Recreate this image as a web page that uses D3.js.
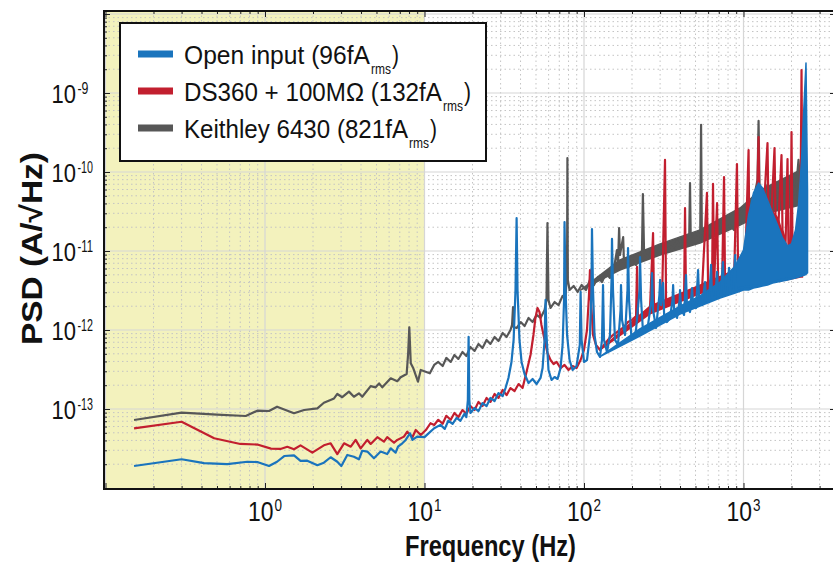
<!DOCTYPE html>
<html><head><meta charset="utf-8">
<script src="https://cdn.jsdelivr.net/npm/d3@7"></script>
<style>body{margin:0;background:#fff;} svg{display:block;}</style>
</head><body>
<svg id="chart" width="833" height="567"></svg>
<script>
// ---------- DATA ----------
const freqTicks = [1, 10, 100, 1000];
const freqTickExps = ["0", "1", "2", "3"];
const psdTicks = [1e-13, 1e-12, 1e-11, 1e-10, 1e-9];
const psdTickExps = ["-13", "-12", "-11", "-10", "-9"];
const shadedBand = [0.098, 10];   // Hz, highlighted low-frequency region
const seriesNames = ["Open input (96fA", "DS360 + 100M\u03A9 (132fA", "Keithley 6430 (821fA"];
const seriesColors = ["#1a74bd", "#c21f2f", "#575757"];

// [frequency Hz, PSD A/sqrt(Hz)]
const openInput = [
[0.151,1.90e-14],[0.30,2.31e-14],[0.415,2.06e-14],[0.58,2.01e-14],[0.775,2.15e-14],[0.895,2.13e-14],[1.06,1.90e-14],[1.19,2.15e-14],[1.32,2.54e-14],[1.52,2.59e-14],[1.67,2.20e-14],[1.84,2.22e-14],[2.13,1.94e-14],[2.34,2.09e-14],[2.58,2.45e-14],[2.84,2.15e-14],[3.01,1.90e-14],[3.28,2.62e-14],[3.61,2.49e-14],[3.88,2.31e-14],[4.07,2.96e-14],[4.38,2.89e-14],[4.82,2.38e-14],[5.31,2.89e-14],[5.84,2.69e-14],[6.14,3.18e-14],[6.59,2.80e-14],[6.82,3.33e-14],[7.26,3.68e-14],[7.62,4.06e-14],[8.11,4.92e-14],[8.4,4.06e-14],[9.0,4.47e-14],[10,4.4e-14],[10.6,4.92e-14],[11.5,5.7e-14],
[12.6,6.3e-14],[13.4,5.6e-14],[14.1,7.1e-14],[15.0,6.5e-14],[15.9,7.7e-14],[16.8,7.1e-14],[17.8,8.7e-14],[18.3,7.9e-14],[18.7,1.3e-13],[18.9,8.2e-13],[19.1,1.3e-13],[19.4,8.9e-14],[20.6,1.03e-13],[21.8,9.4e-14],[23.1,1.19e-13],[24.5,1.09e-13],[25.9,1.38e-13],[27.5,1.26e-13],[29.1,1.59e-13],[30.9,1.46e-13],[32.2,1.84e-13],[33.6,2.47e-13],[35.1,3.94e-13],[36.2,7.5e-13],[37.2,3.2e-12],[37.8,2.6e-11],[38.3,3.2e-12],[39.4,7.5e-13],[40.6,3.94e-13],[42.4,2.77e-13],[44.9,2.13e-13],[47.6,2.4e-13],[50.4,2.07e-13],[53.4,2.47e-13],[55.0,3.3e-13],[56.6,7.5e-13],[57.4,2.4e-12],[58.2,8.65e-13],[59.9,3.12e-13],[62.6,2.33e-13],[65.4,2.54e-13],[68.3,2.4e-13],[71.3,3.3e-13],[73.4,6.47e-13],[75.0,2.4e-12],[75.5,2.33e-11],[76.6,3.2e-12],[78.3,8.65e-13],[81.2,4.17e-13],[84.8,3.12e-13],[89.8,3.5e-13],[94.1,6.47e-13],[95.2,3.03e-12],[96.6,7.5e-13],[100,3.94e-13],[104.4,4.17e-13],[109,8.65e-13],[111.4,3.2e-12],[112.2,1.9e-11],[113.9,3.2e-12],[116.4,8.65e-13],[120.6,5.27e-13],[126,4.56e-13],[129.7,7.5e-13],[131.6,3.71e-12],[133.5,7.5e-13],[139.4,5.27e-13],[145.5,8.65e-13],[148.8,4.3e-12],[149.8,1.42e-11],[152,3.2e-12],[156.4,7.5e-13],[163.4,6.47e-13],[169.5,1.79e-12],[170.6,3.71e-12],[173.1,1.34e-12],[180.8,8.65e-13],[187.4,3.2e-12],[188.8,1.09e-11],[191.6,2.4e-12],[197.9,8.65e-13],[205.9,7.93e-13],[211.9,1.0e-12],[223,3.2e-12],[224.5,8.4e-12],[228,2.4e-12],[234,1.0e-12],[244.8,9.44e-13],[252,1.16e-12],[265,2.4e-12],[267,5.27e-12],[271,1.79e-12],[283,1.06e-12],[297,2.77e-12],[300,4.3e-12],[304,2.07e-12],[313,3.94e-12],[318,1.55e-12],[331,1.26e-12],[346,1.42e-12],[359,2.4e-12],[362,3.71e-12],[367,1.79e-12],[383,1.42e-12],[398,2.4e-12],[400,3.2e-12],[406,1.9e-12],[424,1.55e-12],[436,4.97e-12],[442,2.07e-12],[462,1.69e-12],[476,3.4e-12],[483,2.07e-12],[504,1.9e-12],[519,5.75e-12],[527,2.4e-12],[550,2.07e-12],[574,4.05e-12],[582,2.4e-12],[608,2.26e-12],[626,6.66e-12],[635,2.54e-12],[664,2.54e-12],[683,5.43e-12],[693,2.7e-12],[722,2.77e-12],[743,7.26e-12],[755,2.86e-12],[789,2.94e-12],[812,6.1e-12],[824,3.03e-12],[861,3.12e-12],[887,8.9e-12],[898,3.21e-12],[952,3.4e-12],[1000,3.5e-12],[1280,3.71e-12],[1710,4.3e-12],[2280,4.83e-12],[2480,5.12e-12]
];
const ds360 = [
[0.151,5.7e-14],[0.30,6.9e-14],[0.48,4.26e-14],[0.70,3.61e-14],[0.895,3.55e-14],[1.09,3.15e-14],[1.25,3.12e-14],[1.38,3.33e-14],[1.52,3.09e-14],[1.67,3.47e-14],[1.98,2.80e-14],[2.34,3.47e-14],[2.58,3.68e-14],[2.84,2.69e-14],[3.13,3.68e-14],[3.45,3.33e-14],[3.70,4.06e-14],[3.98,3.18e-14],[4.38,4.06e-14],[4.60,3.61e-14],[5.06,4.4e-14],[5.57,3.86e-14],[5.84,4.4e-14],[6.44,3.74e-14],[6.75,4.06e-14],[7.43,4.47e-14],[7.8,5.16e-14],[8.4,4.4e-14],[8.81,5.42e-14],[9.47,4.69e-14],[10.2,5.42e-14],[10.9,6.6e-14],[11.5,6.27e-14],
[12.2,7.3e-14],[13.0,6.5e-14],[13.7,8.2e-14],[14.6,7.3e-14],[15.4,8.9e-14],[16.3,7.9e-14],[17.3,9.7e-14],[18.3,8.7e-14],[19.4,1.09e-13],[20.6,9.7e-14],[21.8,1.23e-13],[23.1,1.09e-13],[24.5,1.38e-13],[25.9,1.23e-13],[27.5,1.55e-13],[29.1,1.38e-13],[30.9,1.74e-13],[32.7,1.5e-13],[34.6,1.84e-13],[36.7,1.69e-13],[38.9,2.07e-13],[41.2,1.84e-13],[43.6,2.94e-13],[46.2,4.83e-13],[48.2,8.65e-13],[49.6,1.42e-12],[51.1,1.9e-12],[52.6,1.69e-12],[54.1,1.16e-12],[56.6,7.5e-13],[59.0,5.12e-13],[61.7,4.17e-13],[64.5,3.71e-13],[67.3,3.94e-13],[71.3,3.3e-13],[75.5,3.61e-13],[80.0,3.12e-13],[84.8,3.5e-13],[89.8,3.3e-13],[95.2,4.17e-13],[100,5.59e-13],[104.4,1.0e-12],[107.5,2.77e-12],[109,5.75e-12],[110.6,2.4e-12],[113.9,8.65e-13],[118.9,6.47e-13],[126,5.59e-13],[133.5,6.47e-13],[141.4,7.5e-13],[149.8,8.4e-13],[158.7,9.17e-13],[168,1.0e-12],[178,1.09e-12],[188.8,1.26e-12],[200,1.34e-12],[212,1.5e-12],[215,6.28e-12],[218,1.42e-12],[231,1.59e-12],[245,1.69e-12],[259,1.79e-12],[271,1.69e-11],[275,1.79e-12],[291,1.95e-12],[308,2.07e-12],[322,1.42e-10],[327,2.07e-12],[346,2.2e-12],[367,2.4e-12],[400,2.4e-12],[424,2.54e-12],[430,3.5e-11],[436,2.54e-12],[462,2.86e-12],[490,3.03e-12],[519,3.21e-12],[550,3.4e-12],[590,5.43e-11],[600,3.4e-12],[635,3.71e-12],[644,7.06e-11],[654,3.71e-12],[683,4.05e-11],[693,3.83e-12],[734,3.94e-12],[755,8.65e-11],[766,4.05e-12],[824,4.3e-12],[873,4.56e-12],[910,1.26e-10],[925,4.83e-12],[980,5.12e-12],[1029,8.9e-12],[1076,1.9e-10],[1090,8.9e-12],[1155,1.38e-11],[1207,1.84e-11],[1243,2.77e-10],[1260,2.13e-11],[1335,2.86e-11],[1414,2.33e-10],[1434,3.12e-11],[1498,3.12e-11],[1565,2.01e-10],[1587,2.86e-11],[1658,2.33e-11],[1731,1.64e-10],[1756,1.84e-11],[1834,1.19e-11],[1888,1.46e-10],[1915,1.03e-11],[1970,8.16e-12],[2000,3.21e-10],[2030,8.9e-12],[2119,1.38e-11],[2213,2.47e-11],[2279,4.43e-11],[2311,1.95e-9],[2345,1.84e-11]
];
const keithley = [
[0.151,7.26e-14],[0.30,8.98e-14],[0.5,8.5e-14],[0.757,8.15e-14],[0.895,9.52e-14],[1.06,9.43e-14],[1.19,1.07e-13],[1.52,8.83e-14],[1.76,9.71e-14],[2.13,1.02e-13],[2.34,1.20e-13],[2.71,1.36e-13],[2.84,1.55e-13],[3.05,1.41e-13],[3.36,1.66e-13],[3.61,1.43e-13],[3.88,1.58e-13],[4.07,1.43e-13],[4.60,1.95e-13],[4.94,1.88e-13],[5.19,2.11e-13],[5.44,1.88e-13],[6.14,2.45e-13],[6.75,2.25e-13],[7.09,2.52e-13],[7.73,2.77e-13],[7.9,5.1e-13],[8.03,1.08e-12],[8.2,3.8e-13],[8.51,3.27e-13],[9.10,2.22e-13],[9.47,3.12e-13],[10.8,2.83e-13],[11.5,3.61e-13],
[12.2,3.94e-13],[13.0,3.5e-13],[13.7,4.43e-13],[14.6,3.94e-13],[15.4,4.83e-13],[16.3,4.3e-13],[17.3,5.27e-13],[18.3,4.69e-13],[19.4,6.1e-13],[20.6,5.43e-13],[21.8,6.66e-13],[23.1,5.92e-13],[24.5,7.48e-13],[25.9,6.66e-13],[27.5,8.16e-13],[29.1,7.26e-13],[30.9,9.17e-13],[32.7,8.16e-13],[34.6,1.0e-12],[35.4,1.16e-12],[35.9,1.95e-12],[36.2,1.09e-12],[37.8,1.06e-12],[40.1,1.26e-12],[42.4,1.12e-12],[44.9,1.42e-12],[47.6,1.26e-12],[50.4,1.55e-12],[53.4,1.42e-12],[56.6,1.79e-12],[58.2,2.4e-12],[59.0,2.26e-11],[59.9,2.4e-12],[61.7,1.9e-12],[65.4,2.26e-12],[69.3,2.07e-12],[73.4,2.7e-12],[76.6,2.54e-12],[78.3,5.75e-12],[78.7,1.5e-10],[79.2,4.3e-12],[81.2,3.21e-12],[86.1,3.61e-12],[91.2,3.03e-12],[96.6,3.71e-12],[102.9,3.21e-12],[109,4.3e-12],[115.5,3.71e-12],[122.4,4.69e-12],[129.7,4.05e-12],[137.4,5.27e-12],[145.5,4.56e-12],[154.2,6.1e-12],[161,1.03e-11],[163.4,6.66e-12],[166,1.95e-11],[168,8.9e-12],[176,1.5e-11],[178,7.26e-12],[189,6.1e-12],[200,7.7e-12],[212,6.66e-12],[224.5,8.65e-12],[231,1.03e-11],[234,5.27e-11],[238,9.72e-12],[252,8.16e-12],[267,1.03e-11],[283,8.9e-12],[300,1.12e-11],[318,9.72e-12],[337,1.23e-11],[359,1.06e-11],[383,1.34e-11],[400,1.16e-11],[424,1.46e-11],[456,1.26e-11],[462,7.26e-11],[467,1.38e-11],[497,1.55e-11],[535,1.38e-11],[542,3.94e-10],[548,1.74e-11],[582,1.46e-11],[617,1.5e-11],[654,1.95e-11],[693,1.74e-11],[734,2.33e-11],[778,1.95e-11],[824,2.13e-11],[873,1.84e-11],[925,2.86e-11],[980,3.3e-11],[1044,3.83e-11],[1106,4.43e-11],[1172,5.12e-11],[1224,7.93e-11],[1243,4.43e-10],[1260,6.85e-11],[1335,5.12e-11],[1414,6.85e-11],[1498,4.43e-11],[1587,7.48e-11],[1682,3.83e-11],[1783,6.28e-11],[1888,4.43e-11],[2000,8.4e-11],[2119,5.12e-11],[2213,1.42e-10],[2279,5.92e-11]
];
// noise envelopes of the dense high-frequency part: [frequency, lower PSD, upper PSD]
const openInputBand = [
[126,4.6e-13,4.6e-13],[224,8.4e-13,1.03e-12],[400,1.59e-12,2.01e-12],[534,2.01e-12,2.7e-12],[713,2.54e-12,4.05e-12],[887,2.94e-12,6.47e-12],[1000,3.21e-12,1.03e-11],[1076,3.21e-12,2.86e-11],[1155,3.4e-12,5.43e-11],[1243,3.5e-12,7.26e-11],[1315,3.61e-12,6.28e-11],[1414,3.71e-12,4.43e-11],[1521,3.94e-12,3.03e-11],[1634,4.05e-12,2.13e-11],[1756,4.17e-12,1.46e-11],[1888,4.3e-12,1.16e-11],[2000,4.43e-12,1.23e-11],[2119,4.56e-12,1.84e-11],[2213,4.69e-12,3.83e-11],[2311,4.83e-12,1.42e-10],[2379,4.97e-12,5.27e-10],[2465,5.12e-12,2.4e-9],[2520,5.27e-12,5.92e-11]
];
const ds360Band = [
[126,5.6e-13,5.6e-13],[259,1.6e-12,2.0e-12],[534,2.9e-12,3.7e-12],[952,4.3e-12,6.1e-12],[1029,3.83e-12,8.9e-12],[1155,3.83e-12,1.46e-11],[1335,3.94e-12,3.03e-11],[1498,4.05e-12,3.3e-11],[1658,4.17e-12,2.47e-11],[1834,4.3e-12,1.26e-11],[1970,4.43e-12,8.16e-12],[2119,4.56e-12,1.46e-11],[2279,4.69e-12,4.43e-11],[2345,4.69e-12,1.84e-11]
];
const keithleyBand = [
[95.2,3.2e-12,3.2e-12],[168,5.75e-12,7.7e-12],[300,8.9e-12,1.23e-11],[534,1.26e-11,1.85e-11],[952,2.13e-11,3.5e-11],[1280,2.86e-11,5.92e-11],[2279,3.83e-11,1.06e-10]
];

// ---------- LAYOUT ----------
const svg = d3.select("#chart");
const P = {left: 104, top: 11, right: 836, bottom: 489};
const x = d3.scaleLog().domain([0.1, 1000]).range([105.5, 743.5]);
const y = d3.scaleLog().domain([1e-14, 1e-9]).range([488, 93]);
const FONT = "'Liberation Sans', Arial, 'DejaVu Sans', sans-serif";

// text helper: fits the text to a target width by a horizontal scale (condensed look)
function label(parent, str, px, py, size, width, opts = {}) {
  const g = parent.append("g");
  const t = g.append("text").attr("x", 0).attr("y", 0)
    .attr("font-family", FONT).attr("font-size", size).attr("fill", "#111")
    .attr("font-weight", opts.bold ? "bold" : "normal").text(str);
  const natural = t.node().getComputedTextLength();
  const sx = width ? width / natural : 1;
  let dx = 0;
  if (opts.anchor === "end") dx = -width;
  else if (opts.anchor === "middle") dx = -width / 2;
  g.attr("transform", `translate(${px},${py})${opts.rotate ? ` rotate(${opts.rotate})` : ""} translate(${dx},0) scale(${sx},1)`);
  return g;
}

svg.append("defs").append("clipPath").attr("id", "clip")
  .append("rect").attr("x", P.left).attr("y", P.top)
  .attr("width", P.right - P.left).attr("height", P.bottom - P.top);

// background
svg.append("rect").attr("x", P.left).attr("y", P.top)
  .attr("width", P.right - P.left).attr("height", P.bottom - P.top).attr("fill", "#fff");
svg.append("rect").attr("x", P.left).attr("y", P.top)
  .attr("width", x(shadedBand[1]) - P.left).attr("height", P.bottom - P.top)
  .attr("fill", "#f3f2bd");

// grid values
const xMinor = [], xMajor = [];
for (let d = -1; d <= 3; d++) for (let k = 1; k <= 9; k++) {
  const v = k * Math.pow(10, d);
  const px = x(v);
  if (px <= P.left + 1 || px >= P.right) continue;
  (k === 1 ? xMajor : xMinor).push(v);
}
const yMinor = [], yMajor = [];
for (let d = -14; d <= -8; d++) for (let k = 1; k <= 9; k++) {
  const v = k * Math.pow(10, d);
  const py = y(v);
  if (py <= P.top + 1 || py >= P.bottom - 1) continue;
  (k === 1 ? yMajor : yMinor).push(v);
}
const grid = svg.append("g").attr("clip-path", "url(#clip)");
grid.selectAll(".xm").data(xMinor).join("line")
  .attr("x1", d => x(d)).attr("x2", d => x(d)).attr("y1", P.top).attr("y2", P.bottom)
  .attr("stroke", "#c4c4c4").attr("stroke-width", 1).attr("stroke-dasharray", "1.5,3");
grid.selectAll(".ym").data(yMinor).join("line")
  .attr("y1", d => y(d)).attr("y2", d => y(d)).attr("x1", P.left).attr("x2", P.right)
  .attr("stroke", "#c4c4c4").attr("stroke-width", 1).attr("stroke-dasharray", "1.5,3");
grid.selectAll(".xM").data(xMajor).join("line")
  .attr("x1", d => x(d)).attr("x2", d => x(d)).attr("y1", P.top).attr("y2", P.bottom)
  .attr("stroke", "#d6d6d6").attr("stroke-width", 1.2);
grid.selectAll(".yM").data(yMajor).join("line")
  .attr("y1", d => y(d)).attr("y2", d => y(d)).attr("x1", P.left).attr("x2", P.right)
  .attr("stroke", "#d6d6d6").attr("stroke-width", 1.2);

// ---------- SERIES ----------
const plot = svg.append("g").attr("clip-path", "url(#clip)");
const line = d3.line().x(d => x(d[0])).y(d => y(d[1]));
const area = d3.area().x(d => x(d[0])).y0(d => y(d[1])).y1(d => y(d[2]));
const seriesData = [
  {pts: keithley, band: keithleyBand, color: seriesColors[2]},
  {pts: ds360, band: ds360Band, color: seriesColors[1]},
  {pts: openInput, band: openInputBand, color: seriesColors[0]}
];
seriesData.forEach(s => {
  plot.append("path").datum(s.band).attr("d", area)
    .attr("fill", s.color).attr("stroke", s.color).attr("stroke-width", 1.5)
    .attr("stroke-linejoin", "round");
  plot.append("path").datum(s.pts).attr("d", line)
    .attr("fill", "none").attr("stroke", s.color).attr("stroke-width", 2.2)
    .attr("stroke-linejoin", "round");
});

// ---------- AXES (inside ticks) ----------
function tickAxis(axisFn, scale, values, size, transform) {
  const g = svg.append("g").attr("transform", transform)
    .call(axisFn(scale).tickValues(values).tickSize(size).tickFormat(""));
  g.select(".domain").remove();
  g.selectAll(".tick line").attr("stroke", "#222").attr("stroke-width", 1);
  return g;
}
tickAxis(d3.axisLeft, y, yMajor, -6, `translate(${P.left},0)`);
tickAxis(d3.axisLeft, y, yMinor, -3, `translate(${P.left},0)`);
tickAxis(d3.axisRight, y, yMajor, -6, `translate(${P.right},0)`);
tickAxis(d3.axisRight, y, yMinor, -3, `translate(${P.right},0)`);
tickAxis(d3.axisBottom, x, xMajor, -6, `translate(0,${P.bottom})`);
tickAxis(d3.axisBottom, x, xMinor, -3, `translate(0,${P.bottom})`);
tickAxis(d3.axisTop, x, xMajor, -6, `translate(0,${P.top})`);
tickAxis(d3.axisTop, x, xMinor, -3, `translate(0,${P.top})`);

// frame
svg.append("path")
  .attr("d", `M${P.right},${P.top}H${P.left}V${P.bottom}H${P.right}`)
  .attr("fill", "none").attr("stroke", "#111").attr("stroke-width", 2);

// tick labels
const yl = svg.append("g");
psdTicks.forEach((v, i) => {
  const py = y(v);
  label(yl, "10", 76, py + 9.5, 25, 24.5, {anchor: "end"});
  const w = psdTickExps[i].length === 2 ? 11 : 15.5;
  label(yl, psdTickExps[i], 77.5, py + 1, 16, w);
});
const xl = svg.append("g");
freqTicks.forEach((v, i) => {
  const px = x(v);
  label(xl, "10", px - 17, 521, 27, 25.5);
  label(xl, freqTickExps[i], px + 9.5, 511, 16, 7.5);
});

// axis titles
label(svg, "Frequency (Hz)", 405, 556, 30, 171, {bold: true});
label(svg, "PSD (A/\u221AHz)", 42, 345, 30, 193, {bold: true, rotate: -90});

// ---------- LEGEND ----------
const lg = svg.append("g");
lg.append("rect").attr("x", 120).attr("y", 23).attr("width", 366).attr("height", 138)
  .attr("fill", "#fff").attr("stroke", "#111").attr("stroke-width", 2);
const legendRows = [
  {name: seriesNames[0], color: seriesColors[0], base: 64, len: 186},
  {name: seriesNames[1], color: seriesColors[1], base: 101, len: 258},
  {name: seriesNames[2], color: seriesColors[2], base: 138, len: 224}
];
legendRows.forEach(r => {
  const subX = 184 + r.len + 1;
  lg.append("line").attr("x1", 138).attr("x2", 173).attr("y1", r.base - 10).attr("y2", r.base - 10)
    .attr("stroke", r.color).attr("stroke-width", 7);
  label(lg, r.name, 184, r.base, 26, r.len);
  label(lg, "rms", subX, r.base + 10, 15, 20);
  label(lg, ")", subX + 21, r.base, 26, 7);
});
</script>
</body></html>
